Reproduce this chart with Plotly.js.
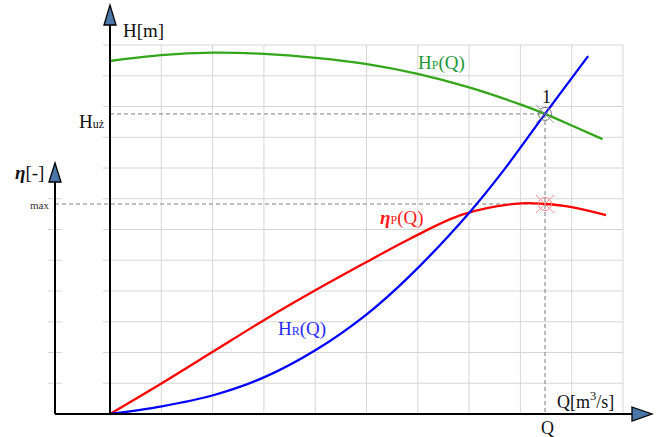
<!DOCTYPE html>
<html><head><meta charset="utf-8">
<script src="https://cdn.plot.ly/plotly-3.0.1.min.js"></script>
<style>html,body{margin:0;padding:0;background:#fff}#chart{width:664px;height:437px}</style>
</head><body><div id="chart"></div>
<script>
// Pump characteristic H_P(Q)
const hpQ = [0, 0.99, 2.01, 3.0, 4.01, 5.01, 6.0, 7.0, 8.01, 8.48, 9.0, 9.6];
const hpH = [11.48, 11.67, 11.75, 11.71, 11.58, 11.38, 11.06, 10.62, 10.06, 9.76, 9.38, 8.94];
// System characteristic H_R(Q)
const hrQ = [0, 1.01, 2.01, 3.0, 4.01, 5.01, 5.85, 7.0, 7.68, 8.48, 9.32];
const hrH = [0, 0.25, 0.61, 1.19, 2.08, 3.25, 4.50, 6.54, 7.94, 9.76, 11.64];
// Efficiency eta_P(Q)
const etaQ = [0, 1.01, 2.01, 3.0, 4.01, 5.01, 5.85, 6.88, 8.01, 8.48, 9.0, 9.67];
const etaV = [0, 1.0, 2.03, 3.05, 4.03, 4.95, 5.70, 6.49, 6.85, 6.83, 6.73, 6.47];
// Grid / ticks
const gridQ = [1, 2, 3, 4, 5, 6, 7, 8, 9, 10];
const gridH = [1, 2, 3, 4, 5, 6, 7, 8, 9, 10, 11, 12];
const etaTicks = [1, 2, 3, 4, 5, 6, 7];
// Operating point
const opQ = 8.48, opH = 9.76, etaMax = 6.83;

const W = 664, H = 437;
const kx = 51.3, ky = 30.75;      // px per unit
const x0px = 110, y0px = 414;     // origin in px
const xr = [-x0px / kx, (W - x0px) / kx];
const yr = [(y0px - H) / ky, y0px / ky];
const px2x = p => (p - x0px) / kx;
const py2y = p => (y0px - p) / ky;
const etaAx = px2x(55);

const serif = 'Liberation Serif, Times New Roman, serif';
const shapes = [];
function ln(xa, ya, xb, yb, color, width, dash, layer) {
  shapes.push({type: 'line', xref: 'x', yref: 'y', x0: xa, y0: ya, x1: xb, y1: yb,
    line: {color: color, width: width, dash: dash || 'solid'}, layer: layer || 'above'});
}
// grid
gridQ.forEach(q => ln(q, 0, q, gridH[gridH.length - 1], '#d6d6d6', 1, 'solid', 'below'));
gridH.forEach(h => ln(px2x(103), h, gridQ[gridQ.length - 1], h, '#d6d6d6', 1, 'solid', 'below'));
etaTicks.forEach(h => ln(px2x(48), h, px2x(62), h, '#d6d6d6', 1, 'solid', 'below'));
// dashed guides
ln(0, opH, opQ, opH, '#999', 1.3, '4px,3px', 'below');
ln(opQ, opH, opQ, 0, '#999', 1.3, '4px,3px', 'below');
ln(etaAx, etaMax, opQ, etaMax, '#aaa', 1.3, '4px,3px', 'below');
// axes
ln(0, 0, 0, py2y(24), '#000', 2);
ln(etaAx, 0, etaAx, py2y(181), '#000', 2);
ln(etaAx, 0, px2x(633), 0, '#000', 2);
function arrowPath(pts) {
  return 'M ' + pts.map(p => p[0] + ',' + p[1]).join(' L ') + ' Z';
}
const hw = 6 / kx, hh = 7 / ky;
[[0, 5, 25], [etaAx, 163, 182]].forEach(a => {
  shapes.push({type: 'path', xref: 'x', yref: 'y', fillcolor: '#4a76a8', line: {color: '#000', width: 1.3},
    path: arrowPath([[a[0] - hw, py2y(a[2])], [a[0], py2y(a[1])], [a[0] + hw, py2y(a[2])]])});
});
shapes.push({type: 'path', xref: 'x', yref: 'y', fillcolor: '#4a76a8', line: {color: '#000', width: 1.3},
  path: arrowPath([[px2x(632), hh], [px2x(652), 0], [px2x(632), -hh]])});

const traces = [
  {x: hpQ, y: hpH, mode: 'lines', line: {color: '#33a61a', width: 2.3, shape: 'spline', smoothing: 1}, hoverinfo: 'skip'},
  {x: etaQ, y: etaV, mode: 'lines', line: {color: '#ff0000', width: 2.3, shape: 'spline', smoothing: 1}, hoverinfo: 'skip'},
  {x: hrQ, y: hrH, mode: 'lines', line: {color: '#0000ff', width: 2.3, shape: 'spline', smoothing: 1}, hoverinfo: 'skip'},
  {x: [opQ], y: [opH], mode: 'markers', marker: {symbol: 'circle-open', size: 13, color: '#777', line: {width: 1}}},
  {x: [opQ], y: [opH], mode: 'markers', marker: {symbol: 'x-thin-open', size: 18, color: '#888', line: {width: 0.8}}},
  {x: [opQ], y: [etaMax], mode: 'markers', marker: {symbol: 'circle-open', size: 13, color: '#ff8080', line: {width: 1}}},
  {x: [opQ], y: [etaMax], mode: 'markers', marker: {symbol: 'x-thin-open', size: 18, color: '#ff8080', line: {width: 0.8}}}
];

function lab(text, px, py, color, size, xanchor) {
  return {xref: 'paper', yref: 'paper', x: px / W, y: 1 - py / H, text: text, showarrow: false,
    xanchor: xanchor || 'center', yanchor: 'middle', font: {family: serif, size: size, color: color}};
}
const sm = s => '<span style="font-size:12px">' + s + '</span>';
const annotations = [
  lab('H[m]', 143, 30, '#111', 19),
  lab('H' + sm('uż'), 106, 121, '#111', 19, 'right'),
  lab('<b><i>η</i></b>[-]', 29, 172, '#111', 19),
  lab('max', 51, 205, '#333', 11, 'right'),
  lab('H' + sm('P') + '(Q)', 442, 63, '#23993a', 19),
  lab('1', 546, 97, '#111', 18),
  lab('<b><i>η</i></b>' + sm('P') + '(Q)', 402, 218, '#ff1a1a', 19),
  lab('H' + sm('R') + '(Q)', 302, 329, '#2a2aff', 19),
  lab('Q[m<sup>3</sup>/s]', 585, 400, '#111', 18),
  lab('Q', 547, 428, '#111', 18)
];

const layout = {
  width: W, height: H, margin: {l: 0, r: 0, t: 0, b: 0, pad: 0},
  paper_bgcolor: '#fff', plot_bgcolor: '#fff', showlegend: false,
  xaxis: {range: xr, visible: false, fixedrange: true},
  yaxis: {range: yr, visible: false, fixedrange: true},
  shapes: shapes, annotations: annotations
};
Plotly.newPlot('chart', traces, layout, {displayModeBar: false, staticPlot: true});
</script></body></html>
